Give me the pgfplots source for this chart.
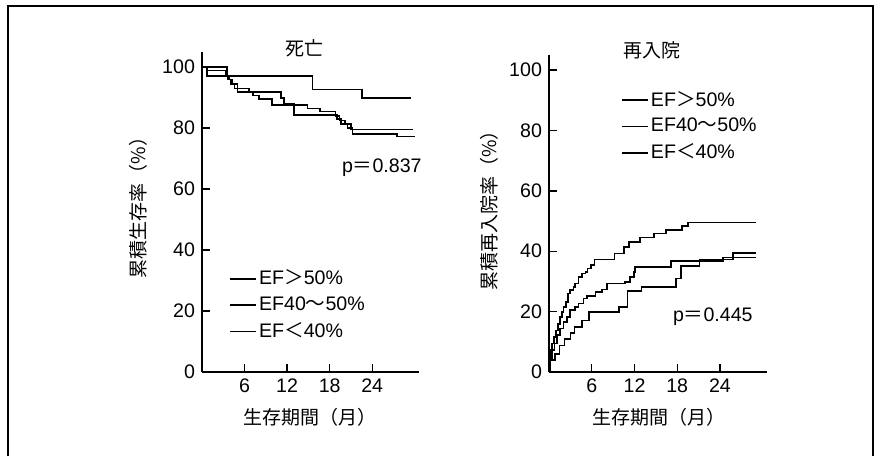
\documentclass[border=0pt]{standalone}
\usepackage{pgfplots}
\pgfplotsset{compat=1.18}
\usepackage{fontspec}
\setmainfont{Liberation Sans}
\newfontfamily\cjk{Noto Sans CJK JP}
\begin{document}
\begin{tikzpicture}[x=0.5pt,y=0.5pt]
\path (0,0) rectangle (881,456);
\draw[line width=0.8pt] (8,0) -- (8,450) -- (873,450) -- (873,0);
\pgfplotsset{
  kmstyle/.style={
    scale only axis,
    width=108.5pt,
    xmin=0, xmax=30.6, ymin=0, ymax=105,
    axis x line*=bottom, axis y line*=left,
    axis line style={-, line width=0.7pt},
    tick align=inside,
    major tick length=4pt,
    tick style={line width=0.7pt, black},
    xtick={6,12,18,24}, ytick={0,20,40,60,80,100},
    /pgf/number format/assume math mode=true,
    tick label style={font=\fontsize{9.8}{11}\selectfont},
    legend cell align=left,
    legend style={draw=none, fill=none, font=\fontsize{9.8}{11}\selectfont, row sep=2.5pt, inner sep=0pt, nodes={inner sep=1pt}},
    legend image code/.code={\draw[#1] (0pt,0pt) -- (13pt,0pt);},
  }
}
\begin{axis}[kmstyle, at={(101pt,42pt)}, anchor=south west, height=160pt,
  legend style={at={(axis description cs:0.125,0.327)}, anchor=north west}]
\addplot[const plot, black, line width=0.8pt] coordinates {(0,100)(3.5,97.2)(15.6,92.7)(22.6,89.9)(29.5,89.9)};
\addlegendentry{EF{\cjk ＞}50\%}
\addplot[const plot, black, line width=0.8pt] coordinates {(0,100)(0.7,98.9)(3.3,97.5)(3.6,96.0)(4.3,94.5)(5.0,93.0)(6.6,91.8)(11.1,90.0)(11.6,88.0)(13.0,84.4)(19.0,83.0)(19.6,81.4)(20.5,80.0)(21.2,78.0)(27.5,77.3)(30.0,77.3)};
\addlegendentry{EF40{\cjk ～}50\%}
\addplot[const plot, black, line width=0.8pt] coordinates {(0,100)(0.7,97.2)(3.8,96.0)(4.1,94.5)(4.6,93.0)(5.0,91.8)(7.2,90.7)(8.0,89.6)(9.9,87.6)(14.9,86.4)(16.6,85.5)(18.8,84.0)(19.4,82.5)(20.2,81.4)(21.0,79.6)(29.8,79.6)};
\addlegendentry{EF{\cjk ＜}40\%}
\end{axis}
\begin{axis}[kmstyle, at={(274.5pt,42pt)}, anchor=south west, width=109pt, height=158.5pt,
  legend style={at={(axis description cs:0.33,0.893)}, anchor=north west}]
\addplot[const plot, black, line width=0.8pt] coordinates {(0,0)(0.05,4.4)(0.14,7.2)(0.38,9.4)(0.71,11.6)(0.94,13.8)(1.23,16.0)(1.55,18.3)(1.79,19.9)(2.02,21.6)(2.35,23.2)(2.64,26.0)(2.97,27.1)(3.44,28.2)(3.67,29.3)(4.14,31.5)(4.6,32.6)(5.1,33.2)(5.4,34.3)(5.9,35.4)(6.4,37.3)(9.2,39.3)(10.5,41.4)(11.2,43.0)(12.8,44.5)(14.7,45.9)(16.4,47.0)(18.7,48.3)(19.5,49.5)(29.1,49.5)};
\addlegendentry{EF{\cjk ＞}50\%}
\addplot[const plot, black, line width=0.8pt] coordinates {(0,0)(0.1,4.4)(0.38,7.2)(0.75,9.5)(1.08,12.2)(1.55,14.4)(2.02,16.6)(2.5,18.2)(2.97,20.5)(3.67,21.6)(4.14,22.7)(4.85,24.3)(5.3,25.1)(6.5,26.5)(7.4,27.3)(8.1,29.3)(10.7,29.8)(11.4,31.5)(11.9,33.2)(12.1,34.8)(17.1,36.7)(24.4,37.9)(29.1,37.9)};
\addlegendentry{EF40{\cjk ～}50\%}
\addplot[const plot, black, line width=0.8pt] coordinates {(0,0)(0.15,4.0)(0.8,6.0)(1.5,8.8)(2.2,11.0)(3.0,13.0)(3.6,15.0)(4.6,17.0)(5.6,19.9)(9.8,21.6)(11.0,26.9)(13.0,28.2)(17.8,31.0)(18.5,35.1)(21.1,37.2)(25.8,39.4)(29.1,39.4)};
\addlegendentry{EF{\cjk ＜}40\%}
\end{axis}
\node[font=\cjk\fontsize{9.5}{10}\selectfont] at (304,408) {死亡};
\node[font=\cjk\fontsize{9.5}{10}\selectfont] at (652,406) {再入院};
\node[font=\cjk\fontsize{9.5}{10}\selectfont] at (310,39) {生存期間（月）};
\node[font=\cjk\fontsize{9.5}{10}\selectfont] at (659,39) {生存期間（月）};
\node[font=\cjk\fontsize{9.5}{10}\selectfont, rotate=90] at (138,253) {累積生存率（\%）};
\node[font=\cjk\fontsize{9.5}{10}\selectfont, rotate=90] at (489,250) {累積再入院率（\%）};
\node[anchor=east, inner sep=0pt, font=\fontsize{9.8}{11}\selectfont] at (422,288) {p{\cjk ＝}0.837};
\node[anchor=east, inner sep=0pt, font=\fontsize{9.8}{11}\selectfont] at (753,139) {p{\cjk ＝}0.445};
\end{tikzpicture}
\end{document}
